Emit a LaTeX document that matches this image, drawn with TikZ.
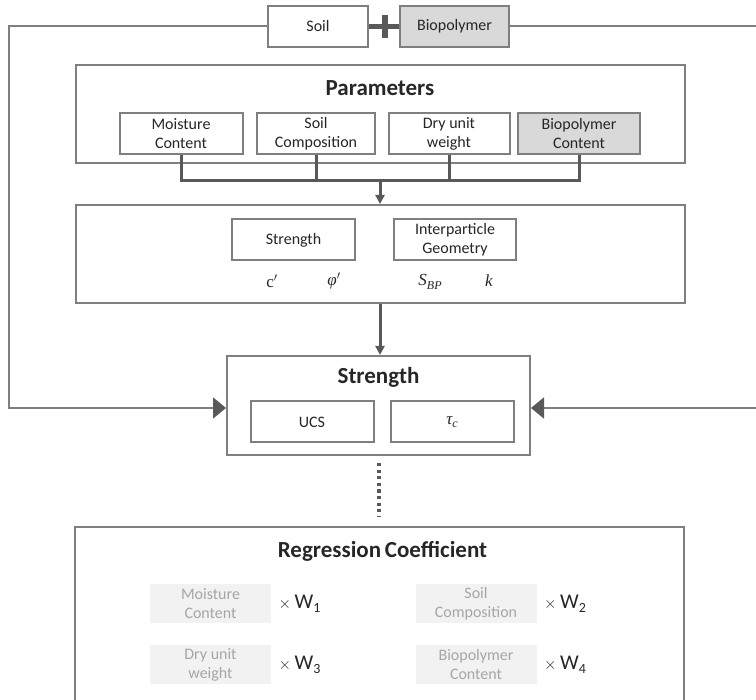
\RequirePackage{fix-cm}
\documentclass[tikz,border=0pt]{standalone}
\usepackage{fontspec}
\setmainfont{Carlito}
\newfontfamily\symfont{Liberation Serif}
\usepackage{tikz}
\usetikzlibrary{arrows.meta}

\definecolor{boxline}{HTML}{7F7F7F}
\definecolor{busline}{HTML}{595959}
\definecolor{boxfill}{HTML}{D9D9D9}
\definecolor{pale}{HTML}{F2F2F2}
\definecolor{paletext}{HTML}{A6A6A6}
\definecolor{ink}{HTML}{262626}

\newcommand\lowsub[1]{\raisebox{-3.5pt}{\fontsize{12}{12}\selectfont #1}}

\tikzset{
  item/.style={draw=boxline, line width=2pt, fill=white, text=ink, align=center,
    inner sep=0pt, minimum height=41pt, font=\fontsize{16}{19}\selectfont},
  frame/.style={draw=boxline, line width=2pt, inner sep=0pt},
  title/.style={text=ink, font=\fontsize{23}{26}\selectfont\bfseries},
  palebox/.style={fill=pale, text=paletext, align=center, inner sep=0pt,
    minimum width=121pt, minimum height=39pt, font=\fontsize{16}{19}\selectfont},
  weight/.style={anchor=west, text=ink, font=\fontsize{21}{22}\selectfont},
  sym/.style={text=ink, font=\fontsize{17}{19}\selectfont\symfont\itshape},
  bus/.style={draw=busline, line width=3pt},
  loop/.style={draw=boxline, line width=2pt},
}

\begin{document}
\begin{tikzpicture}[x=1pt,y=-1pt]
\useasboundingbox (0,0) rectangle (756,700);

% top: soil + biopolymer
\node[item, minimum width=100pt] (soil) at (318,26.5) {Soil};
\node[item, minimum width=109pt, fill=boxfill] (bpol) at (454.5,26.5) {Biopolymer};
\draw[bus, line width=5pt] (soil.east) -- (bpol.west);
\draw[bus, line width=6pt] (385,15) -- (385,38);

% parameters
\node[frame, minimum width=609pt, minimum height=98pt] (param) at (380,114) {};
\node[title] (paramt) at (380,88) {Parameters};
\node[item, minimum width=123pt] (mc) at (181,133.5) {Moisture\\Content};
\node[item, minimum width=118pt] (sc) at (316,133.5) {Soil\\Composition};
\node[item, minimum width=121pt] (duw) at (449,133.5) {Dry unit\\weight};
\node[item, minimum width=122pt, fill=boxfill] (bpc) at (579,133.5) {Biopolymer\\Content};

% middle box
\node[frame, minimum width=609pt, minimum height=98pt] (mid) at (380,254) {};
\node[item, minimum width=123pt] (str) at (293.5,240) {Strength};
\node[item, minimum width=122pt] (geo) at (455,240) {Interparticle\\Geometry};
\node[sym] (cp) at (272,281) {\upshape c$'$};
\node[sym] (phi) at (334,281) {φ$'$};
\node[sym] (sbp) at (430,282) {S\lowsub{BP}};
\node[sym] (kk) at (489,281) {k};

\coordinate (jn) at (380,181);
\draw[bus] (mc.south) -- (mc.south |- jn) -- (bpc.south |- jn) -- (bpc.south);
\draw[bus] (sc.south) -- (sc.south |- jn);
\draw[bus] (duw.south) -- (duw.south |- jn);
\draw[bus, -{Triangle[length=9pt,width=9pt]}] (jn) -- (jn |- mid.north);

% strength
\node[frame, minimum width=303pt, minimum height=99pt] (sbox) at (378.5,405.5) {};
\node[title] (sboxt) at (378.5,377) {Strength};
\node[item, minimum width=123pt] (ucs) at (312,422) {UCS};
\node[item, minimum width=123pt, font=\fontsize{17}{19}\selectfont\symfont\itshape] (tau) at (452,422) {τ\lowsub{c}};
\draw[bus, -{Triangle[length=9pt,width=9pt]}] (mid.south) -- (mid.south |- sbox.north);

% feedback lines
\draw[loop, -{Triangle[length=13pt,width=21pt,color=busline]}]
  (soil.west) -- (9,26.5) -- (9,408) -- ([yshift=-2.5pt]sbox.west);
\draw[loop, -{Triangle[length=13pt,width=21pt,color=busline]}]
  (bpol.east) -- (770,26.5) -- (770,408) -- ([yshift=-2.5pt]sbox.east);

% regression coefficient
\draw[bus, line width=3.2pt, dash pattern=on 3.2pt off 3.4pt] (379,463) -- (379,517);
\draw[loop] (75,740) -- (75,527) -- (684,527) -- (684,740);
\node[title] (regt) at (382.5,551) {Regression\,Coefficient};
\node[palebox] (mc2) at (210.5,603.5) {Moisture\\Content};
\node[palebox] (sc2) at (476,603.5) {Soil\\Composition};
\node[palebox] (duw2) at (210.5,665) {Dry unit\\weight};
\node[palebox] (bpc2) at (476,665) {Biopolymer\\Content};
\node[weight] at ([xshift=4pt]mc2.east) {{\fontsize{16}{16}\selectfont$\times$}\,W\raisebox{-4pt}{\fontsize{14}{14}\selectfont 1}};
\node[weight] at ([xshift=4pt]sc2.east) {{\fontsize{16}{16}\selectfont$\times$}\,W\raisebox{-4pt}{\fontsize{14}{14}\selectfont 2}};
\node[weight] at ([xshift=4pt]duw2.east) {{\fontsize{16}{16}\selectfont$\times$}\,W\raisebox{-4pt}{\fontsize{14}{14}\selectfont 3}};
\node[weight] at ([xshift=4pt]bpc2.east) {{\fontsize{16}{16}\selectfont$\times$}\,W\raisebox{-4pt}{\fontsize{14}{14}\selectfont 4}};
\end{tikzpicture}
\end{document}
